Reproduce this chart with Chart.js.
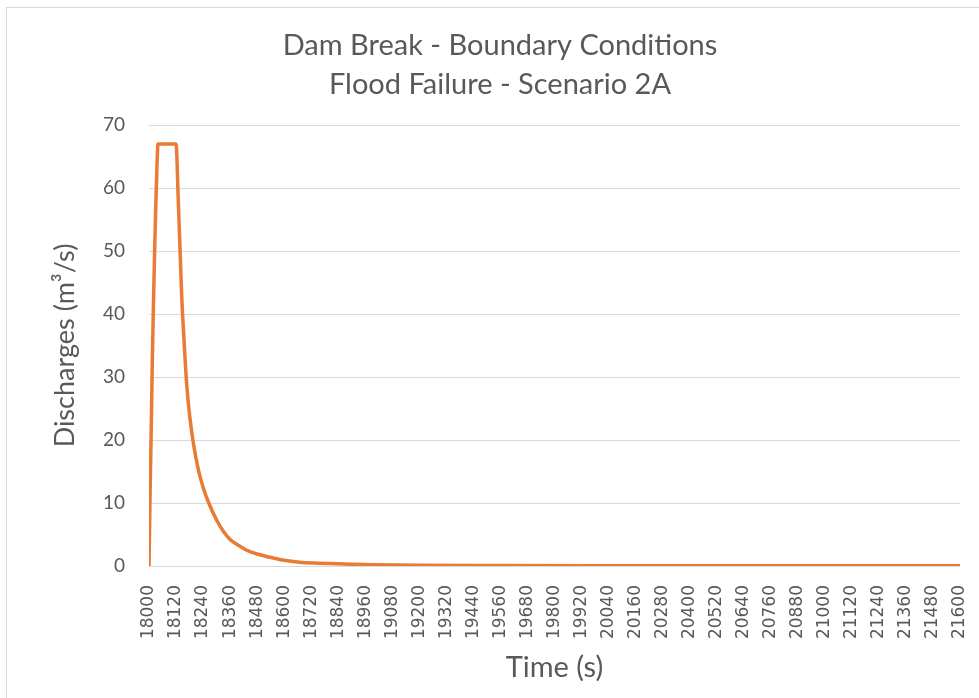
<!DOCTYPE html>
<html>
<head>
<meta charset="utf-8">
<script src="https://cdn.jsdelivr.net/npm/chart.js@4/dist/chart.umd.min.js"></script>
<style>
  html, body { margin: 0; padding: 0; background: #ffffff; overflow: hidden; }
  #wrap { position: relative; width: 979px; height: 698px; }
  #frame { position: absolute; left: 6px; top: 7px; width: 1000px; height: 720px; border: 1px solid #d9d9d9; box-sizing: border-box; }
  canvas { position: absolute; left: 0; top: 0; }
</style>
</head>
<body>
<div id="wrap">
  <div id="frame"></div>
  <canvas id="c" width="979" height="698"></canvas>
</div>
<script>
const chartTitle = ["Dam Break - Boundary Conditions", "Flood Failure - Scenario 2A"];
const xAxisTitle = "Time (s)";
const yAxisTitle = "Discharges (m³/s)";

const timeSeconds = [18000, 18005, 18010, 18015, 18020, 18025, 18030, 18035, 18040, 18120,
  18130, 18138, 18145, 18152, 18160, 18167, 18180, 18197, 18219, 18240,
  18263, 18300, 18330, 18360, 18400, 18434, 18480, 18537, 18600, 18670,
  18750, 18803, 18900, 18994, 19200, 19500, 20000, 20500, 21000, 21600];
const discharge = [0, 12, 22, 33, 42, 50, 57, 63, 67, 67,
  58, 50, 43, 38, 33, 29, 24, 19.5, 15.3, 12.5,
  10.2, 7.3, 5.5, 4.2, 3.2, 2.5, 1.9, 1.4, 0.9, 0.6,
  0.45, 0.38, 0.28, 0.2, 0.12, 0.08, 0.05, 0.03, 0.02, 0.02];

const xTickLabels = [18000, 18120, 18240, 18360, 18480, 18600, 18720, 18840, 18960, 19080,
  19200, 19320, 19440, 19560, 19680, 19800, 19920, 20040, 20160, 20280,
  20400, 20520, 20640, 20760, 20880, 21000, 21120, 21240, 21360, 21480, 21600];
const yTickLabels = [0, 10, 20, 30, 40, 50, 60, 70];

const points = timeSeconds.map((t, i) => ({ x: t, y: discharge[i] }));
const FONT = "Lato, 'Open Sans', sans-serif";
const TICKFONT = "'DejaVu Sans', sans-serif";
const TXT = "#595959";

// The original chart frame is wider than the visible crop; centre the title over it.
const titleCentre = {
  id: "titleCentre",
  afterLayout(chart) {
    if (chart.titleBlock) {
      chart.titleBlock.left = 0;
      chart.titleBlock.right = 1000;
    }
  }
};

new Chart(document.getElementById("c"), {
  type: "line",
  plugins: [titleCentre],
  data: {
    datasets: [{
      data: points,
      borderColor: "#E87B35",
      borderWidth: 3.5,
      pointRadius: 0,
      fill: false,
      cubicInterpolationMode: "monotone"
    }]
  },
  options: {
    responsive: false,
    animation: false,
    layout: { padding: { top: 0, right: 19, bottom: 0, left: 0 } },
    plugins: {
      legend: { display: false },
      tooltip: { enabled: false },
      title: {
        display: true,
        text: chartTitle,
        color: TXT,
        font: { family: FONT, size: 29, weight: "normal", lineHeight: 1.345 },
        padding: { top: 26.5, bottom: 20.5 }
      }
    },
    scales: {
      x: {
        type: "linear",
        min: xTickLabels[0],
        max: xTickLabels[xTickLabels.length - 1],
        afterBuildTicks: (s) => { s.ticks = xTickLabels.map(v => ({ value: v })); },
        afterFit: (s) => { s.height = 132; s.paddingLeft = 0; s.paddingRight = 0; },
        grid: { display: false, drawTicks: false },
        border: { display: false },
        ticks: {
          autoSkip: false,
          maxRotation: 90,
          minRotation: 90,
          padding: 19,
          color: TXT,
          font: { family: TICKFONT, size: 17 },
          callback: (v) => String(v)
        },
        title: {
          display: true,
          text: xAxisTitle,
          color: TXT,
          font: { family: FONT, size: 29 },
          padding: { top: 0, bottom: 13 }
        }
      },
      y: {
        min: 0,
        max: 70,
        afterBuildTicks: (s) => { s.ticks = yTickLabels.map(v => ({ value: v })); },
        afterFit: (s) => { s.width = 149; s.paddingTop = 0; s.paddingBottom = 0; },
        grid: { color: "#d9d9d9", lineWidth: 1, drawTicks: false },
        border: { display: false },
        ticks: {
          padding: 24,
          color: TXT,
          font: { family: FONT, size: 19 }
        },
        title: {
          display: true,
          text: yAxisTitle,
          color: TXT,
          font: { family: FONT, size: 27 },
          padding: { top: 49, bottom: 0 }
        }
      }
    }
  }
});
</script>
</body>
</html>
